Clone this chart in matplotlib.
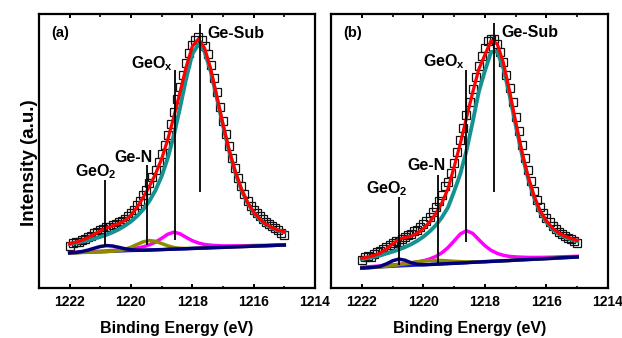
import numpy as np
import matplotlib
matplotlib.use('Agg')
import matplotlib.pyplot as plt
from matplotlib.ticker import MultipleLocator

plt.rcParams['font.family'] = 'Liberation Sans'
plt.rcParams['font.weight'] = 'bold'
plt.rcParams['mathtext.fontset'] = 'custom'
plt.rcParams['mathtext.rm'] = 'Liberation Sans:bold'
plt.rcParams['mathtext.it'] = 'Liberation Sans:bold'
plt.rcParams['mathtext.bf'] = 'Liberation Sans:bold'

# binding energy grids (eV)
energy_fit = np.linspace(1222.0, 1215.0, 36)
energy_data = np.linspace(1222.0, 1215.0, 71)

# ---- panel (a) ----
bg_a = [35.0, 35.2, 35.5, 35.7, 35.9, 36.1, 36.4, 36.6, 36.8, 37.1, 37.3, 37.5,
        37.7, 38.0, 38.2, 38.4, 38.7, 38.9, 39.1, 39.3, 39.6, 39.8, 40.0, 40.3,
        40.5, 40.7, 40.9, 41.2, 41.4, 41.6, 41.9, 42.1, 42.3, 42.5, 42.8, 43.0]
gesub_a = [9.0, 9.8, 10.8, 12.0, 13.4, 15.0, 16.8, 19.1, 21.8, 25.2, 29.2, 34.4,
           40.8, 49.0, 59.6, 73.4, 91.3, 114.0, 141.3, 170.4, 194.4, 204.0, 196.4, 176.3,
           149.3, 121.6, 95.9, 74.5, 56.9, 43.5, 33.5, 26.3, 21.2, 17.5, 14.7, 12.9]
geox_a = [0.35, 0.4, 0.4, 0.5, 0.6, 0.7, 0.8, 1.0, 1.2, 1.4, 1.9, 2.5,
          3.5, 5.2, 7.7, 11.3, 15.1, 17.0, 15.1, 11.3, 7.7, 5.2, 3.5, 2.5,
          1.9, 1.4, 1.2, 1.0, 0.8, 0.7, 0.6, 0.5, 0.4, 0.4, 0.35, 0.3]
gen_a = [0.0] * 7 + [0.2, 0.6, 1.6, 3.5, 6.1, 8.5, 9.5, 8.5, 6.1, 3.5, 1.6, 0.6, 0.2] + [0.0] * 16
geo2_a = [0.1, 0.4, 1.0, 2.2, 3.9, 5.4, 6.0, 5.4, 3.9, 2.2, 1.0, 0.4, 0.1] + [0.0] * 23
data_a = [42, 45.5, 46.5, 46, 48.5, 49, 51.5, 52, 55, 56,
          58.5, 59, 61.5, 61, 63.5, 64, 66, 67.5, 69.5, 72,
          75, 78.5, 83, 87.5, 93, 98.5, 105, 111.5, 118.5, 126,
          134.5, 143.5, 153.5, 164, 176, 189, 201, 213, 225, 235,
          243, 248, 250.5, 248, 242, 234, 222.5, 210, 196, 181,
          167, 154, 142, 130.5, 120, 110.5, 102, 94, 87.5, 82,
          78.5, 75.5, 72.5, 69.5, 66.5, 64.5, 62, 60, 58, 55.5,
          53.5]

# ---- panel (b) ----
bg_b = [20.0, 20.3, 20.6, 20.9, 21.3, 21.6, 21.9, 22.2, 22.5, 22.8, 23.1, 23.5,
        23.8, 24.1, 24.4, 24.7, 25.0, 25.3, 25.7, 26.0, 26.3, 26.6, 26.9, 27.2,
        27.5, 27.9, 28.2, 28.5, 28.8, 29.1, 29.4, 29.7, 30.1, 30.4, 30.7, 31.0]
gesub_b = [8.9, 9.7, 10.7, 11.8, 13.2, 14.7, 16.5, 18.6, 21.2, 24.3, 28.2, 32.9,
           38.8, 46.4, 56.1, 72.0, 89.0, 112.0, 140.0, 170.0, 190.8, 209.4, 209.6, 192.7,
           165.6, 135.0, 106.0, 81.4, 61.5, 46.2, 36.5, 29.0, 24.0, 20.5, 18.0, 16.0]
geox_b = [0.8, 0.9, 1.0, 1.1, 1.3, 1.5, 1.8, 2.1, 2.6, 3.2, 4.1, 5.5,
          7.7, 11.1, 16.0, 22.4, 29.0, 32.0, 29.0, 22.4, 16.0, 11.1, 7.7, 5.5,
          4.1, 3.2, 2.6, 2.1, 1.8, 1.5, 1.3, 1.1, 1.0, 0.9, 0.8, 0.7]
gen_b = [0.0, 0.1, 0.1, 0.25, 0.5, 0.8, 1.4, 2.0, 2.7, 3.4, 3.8, 4.0,
         3.8, 3.4, 2.7, 2.0, 1.4, 0.8, 0.5, 0.25, 0.1, 0.1] + [0.0] * 14
geo2_b = [0.0, 0.0, 0.2, 0.9, 2.8, 5.6, 7.0, 5.6, 2.8, 0.9, 0.2] + [0.0] * 25
data_b = [28, 31.5, 32, 31, 34.5, 36, 37.5, 39, 41.5, 43.5,
          45, 47, 46.5, 49.5, 51, 53.5, 54.5, 57, 58.5, 61.5,
          64, 67, 71, 76.5, 81, 87, 93.5, 102, 106, 115,
          125, 136, 148, 160, 173, 186, 199, 211, 222, 232,
          240, 247, 249, 248.5, 244, 236, 226, 213, 200, 186,
          171, 157, 143, 130, 118, 107, 97, 88.5, 81, 75.5,
          70, 66, 62, 59.5, 56.5, 54.5, 52, 50.5, 49, 47,
          45]

# peak markers: position, line bottom, line top
peak_names = ['GeO$_2$', 'Ge-N', 'GeO$_x$', 'Ge-Sub']
mark_pos_a = [1220.85, 1219.49, 1218.58, 1217.75]
mark_low_a = [41, 43, 48, 96]
mark_high_a = [108, 123, 218, 264]
text_x_a = [1221.16, 1219.92, 1219.3, 1217.5]
text_y_a = [111.3, 126.3, 219.7, 249.7]

mark_pos_b = [1220.79, 1219.53, 1218.6, 1217.7]
mark_low_b = [23, 25, 46, 96]
mark_high_b = [91, 113, 218, 265]
text_x_b = [1221.17, 1219.89, 1219.34, 1217.48]
text_y_b = [94.7, 118, 221.3, 251.3]


def draw_panel(ax, bg, gesub, geox, gen, geo2, data, pos, low, high, tx, ty, tag):
    bg = np.array(bg)
    envelope = bg + np.array(gesub) + np.array(geox) + np.array(gen) + np.array(geo2)
    ax.plot(energy_data, data, 's', ms=6, mfc='none', mec='#111111', mew=0.9, zorder=2)
    ax.plot(energy_fit, bg, color='#2020d0', lw=2.2, zorder=3)
    ax.plot(energy_fit, bg + np.array(geox), color='#ff00ff', lw=2.5, zorder=4)
    ax.plot(energy_fit, bg + np.array(gen), color='#8c8c00', lw=2.5, zorder=4)
    ax.plot(energy_fit, bg + np.array(geo2), color='#00007a', lw=2.5, zorder=5)
    ax.plot(energy_fit, bg + np.array(gesub), color='#17918f', lw=2.8, zorder=6)
    ax.plot(energy_fit, envelope, color='#ff0000', lw=2.3, zorder=7)
    ax.vlines(pos, low, high, color='black', lw=1.3, zorder=8)

    for i in range(len(peak_names)):
        ha = 'left' if peak_names[i] == 'Ge-Sub' else 'center'
        ax.text(tx[i], ty[i], peak_names[i], ha=ha, va='baseline',
                fontsize=11.5, fontweight='bold', zorder=9)
    ax.text(0.045, 0.93, tag, transform=ax.transAxes, ha='left', va='center',
            fontsize=10.5, fontweight='bold')

    ax.set_xlim(1223, 1214)
    ax.set_ylim(0, 274)
    ax.set_yticks([])
    ax.xaxis.set_major_locator(MultipleLocator(2))
    ax.xaxis.set_minor_locator(MultipleLocator(1))
    ax.tick_params(axis='x', which='major', direction='in', top=True, length=3,
                   width=1.4, pad=5, labelsize=10)
    ax.tick_params(axis='x', which='minor', direction='in', top=True, length=1.8, width=1.2)
    for lab in ax.get_xticklabels():
        lab.set_fontweight('bold')
    for sp in ax.spines.values():
        sp.set_linewidth(1.6)
    ax.set_xlabel('Binding Energy (eV)', fontsize=11.5, fontweight='bold', labelpad=9)


fig = plt.figure(figsize=(6.22, 3.38), dpi=100)
ax1 = fig.add_axes([0.0627, 0.1479, 0.4437, 0.8107])
ax2 = fig.add_axes([0.5322, 0.1479, 0.4453, 0.8107])

draw_panel(ax1, bg_a, gesub_a, geox_a, gen_a, geo2_a, data_a,
           mark_pos_a, mark_low_a, mark_high_a, text_x_a, text_y_a, '(a)')
draw_panel(ax2, bg_b, gesub_b, geox_b, gen_b, geo2_b, data_b,
           mark_pos_b, mark_low_b, mark_high_b, text_x_b, text_y_b, '(b)')

fig.text(0.047, 0.52, 'Intensity (a.u.)', rotation=90, ha='center', va='center',
         fontsize=13.5, fontweight='bold')

fig.savefig('out.png', dpi=100)
